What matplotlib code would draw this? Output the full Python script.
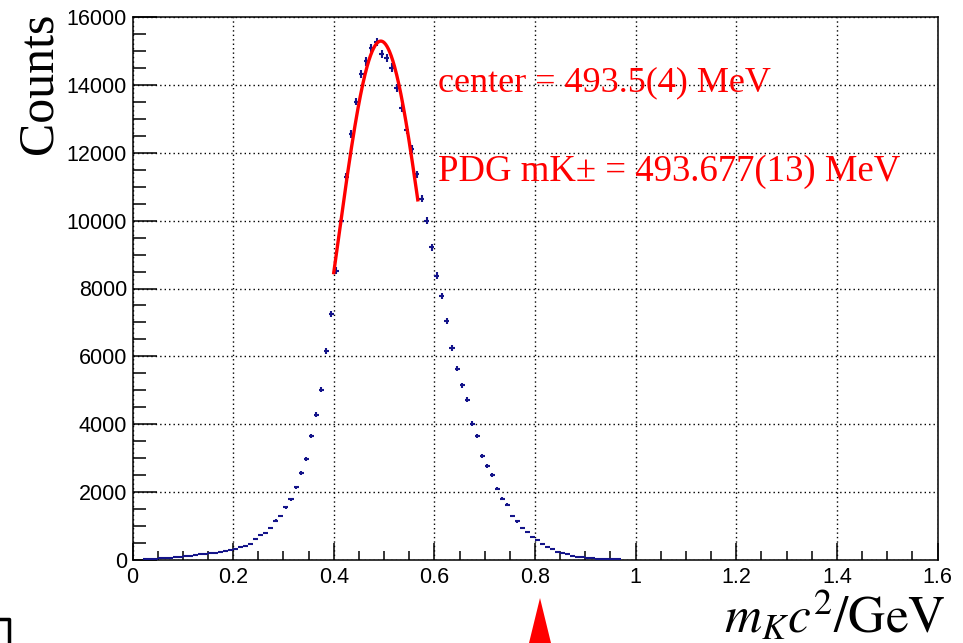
import numpy as np
import matplotlib
matplotlib.use("Agg")
import matplotlib.pyplot as plt
from matplotlib.ticker import MultipleLocator
from matplotlib.patches import Polygon
from matplotlib.lines import Line2D

plt.rcParams["mathtext.fontset"] = "stix"

# kaon mass histogram: 0.01 GeV bins starting at 0.02 GeV
bin_low = 0.02
bin_width = 0.01
counts = [
    25, 30, 35, 45, 55, 70, 80, 95, 115, 130,
    150, 165, 190, 200, 215, 235, 255, 290, 320, 370,
    410, 470, 630, 735, 805, 940, 1160, 1295, 1550, 1795,
    2140, 2570, 2980, 3655, 4285, 5020, 6155, 7255, 8530, 9980,
    11290, 12550, 13510, 14330, 14690, 15080, 15270, 14910, 14800, 14510,
    13900, 13320, 12670, 12110, 11370, 10640, 10000, 9210, 8380, 7765,
    7050, 6245, 5640, 5150, 4725, 4020, 3645, 3060, 2775, 2510,
    2100, 1805, 1630, 1300, 1135, 955, 815, 665, 600, 470,
    395, 325, 250, 215, 170, 130, 100, 80, 55, 45,
    35, 30, 25, 20, 15,
]

# gaussian fit to the peak
fit_amp = 15290
fit_mean = 0.4935
fit_sigma = 0.086
fit_lo, fit_hi = 0.40, 0.567

x_ticks = [0, 0.2, 0.4, 0.6, 0.8, 1.0, 1.2, 1.4, 1.6]
x_tick_labels = ["0", "0.2", "0.4", "0.6", "0.8", "1", "1.2", "1.4", "1.6"]
y_ticks = [0, 2000, 4000, 6000, 8000, 10000, 12000, 14000, 16000]

counts = np.array(counts, dtype=float)
centers = bin_low + bin_width * (np.arange(len(counts)) + 0.5)

fig = plt.figure(figsize=(9.63, 6.43), dpi=100)
ax = fig.add_axes([132.5 / 963, 1 - 560 / 643, 805 / 963, 543 / 643])

navy = "#14148a"
ax.errorbar(centers, counts, xerr=bin_width / 2, yerr=np.sqrt(counts),
            fmt="none", ecolor=navy, elinewidth=1.5, capsize=0, zorder=3)

xf = np.linspace(fit_lo, fit_hi, 200)
yf = fit_amp * np.exp(-0.5 * ((xf - fit_mean) / fit_sigma) ** 2)
ax.plot(xf, yf, color="red", lw=2.4, zorder=4)

ax.text(0.608, 13820, "center = 493.5(4) MeV", color="red",
        family="Liberation Serif", fontsize=26, zorder=5)
ax.text(0.608, 11180, "PDG mK\u00b1 = 493.677(13) MeV", color="red",
        family="Liberation Serif", fontsize=26.5, zorder=5)

ax.set_xlim(0, 1.6)
ax.set_ylim(0, 16000)
ax.set_xticks(x_ticks)
ax.set_xticklabels(x_tick_labels)
ax.set_yticks(y_ticks)
ax.xaxis.set_minor_locator(MultipleLocator(0.05))
ax.yaxis.set_minor_locator(MultipleLocator(500))

ax.grid(True, which="major", color="black", lw=1.0, linestyle=(0, (1, 2.2)))
ax.set_axisbelow(True)

for s in ax.spines.values():
    s.set_linewidth(1.1)

ax.tick_params(axis="both", which="both", direction="in", width=1.1,
               top=False, right=False, labelsize=15.5, colors="black")
ax.tick_params(axis="y", which="major", length=17.3, pad=4)
ax.tick_params(axis="y", which="minor", length=9.5)
ax.tick_params(axis="x", which="major", length=12.3, pad=5)
ax.tick_params(axis="x", which="minor", length=6.5)
for lab in ax.get_xticklabels() + ax.get_yticklabels():
    lab.set_family("Liberation Sans")

# axis titles, ROOT style: aligned to the axis ends
fig.text(51 / 963, 1 - 13 / 643, "Counts", rotation=90, rotation_mode="anchor",
         ha="right", va="baseline", family="Liberation Serif", fontsize=36)
fig.text(946 / 963, 1 - 633 / 643, r"$m_{K}c^{2}/\mathrm{GeV}$",
         ha="right", va="baseline", fontsize=37)

# bits of the surrounding page below the plot
tri = Polygon([[540 / 963, 1 - 598 / 643], [529 / 963, 0], [551 / 963, 0]],
              closed=True, transform=fig.transFigure, color="red", lw=0)
fig.patches.append(tri)
fig.lines.append(Line2D([0, 9 / 963, 9 / 963], [1 - 619 / 643, 1 - 619 / 643, 0],
                        transform=fig.transFigure, color="black", lw=2.5))

fig.savefig("out.png", dpi=100)
